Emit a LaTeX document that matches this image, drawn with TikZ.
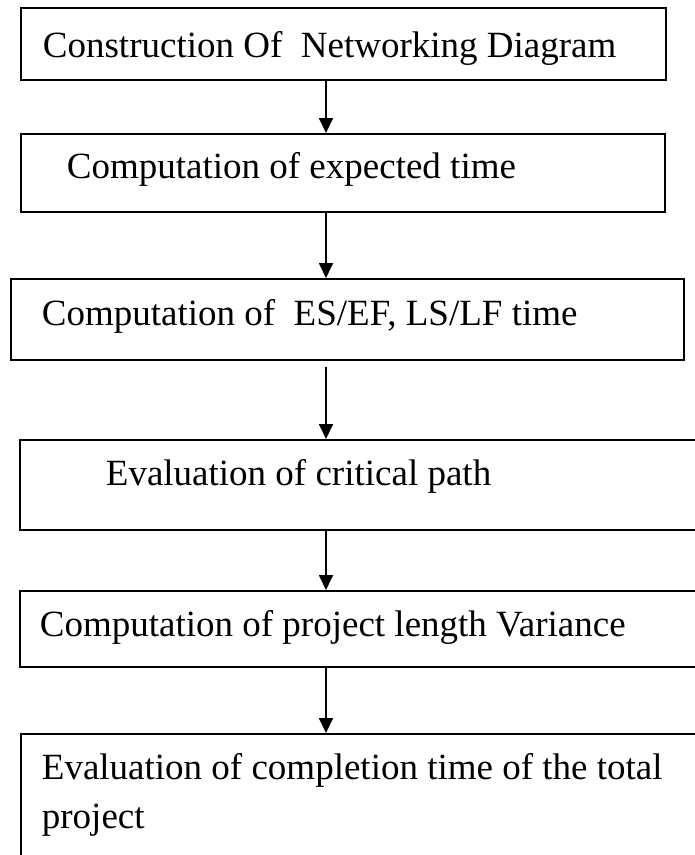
\documentclass[tikz,border=0pt]{standalone}
\usepackage{fontspec}
\setmainfont{Liberation Serif}
\usetikzlibrary{arrows.meta}

\begin{document}
\begin{tikzpicture}[x=1pt,y=-1pt,>={Triangle[length=15pt,width=14pt]},line width=1.8pt]
 \tikzstyle{stage}=[draw,rectangle,inner sep=0pt,anchor=north west]
 \tikzstyle{caption}=[anchor=base west,inner sep=0pt,font=\fontsize{37}{50}\selectfont]

   \useasboundingbox (0,0) rectangle (695,855);
   \clip (0,0) rectangle (695,855);

   % boxes
   \node[stage,minimum width=645,minimum height=72] (net) at (20,7) {};
   \node[stage,minimum width=644,minimum height=78] (expt) at (20,133) {};
   \node[stage,minimum width=673,minimum height=81] (esef) at (10,278) {};
   \node[stage,minimum width=700,minimum height=90] (crit) at (19,439) {};
   \node[stage,minimum width=700,minimum height=76] (var) at (19,590) {};
   \node[stage,minimum width=700,minimum height=160] (total) at (20,733) {};

   % texts
   \node[caption] (tnet) at (42,57) {Construction Of~ Networking Diagram};
   \node[caption] (texpt) at (66,178) {Computation of expected time};
   \node[caption] (tesef) at (41,325) {Computation of~ ES/EF, LS/LF time};
   \node[caption] (tcrit) at (105,485) {Evaluation of critical path};
   \node[caption] (tvar) at (39,636) {Computation of project length Variance};
   \node[caption] (ttot) at (41,779) {Evaluation of completion time of the total};
   \node[caption] (tproj) at (41,828) {project};

   \coordinate (ax) at (326,0);
   \path[->]
   (net.south -| ax) edge (expt.north -| ax)
   (expt.south -| ax) edge (esef.north -| ax)
   (esef.south -| ax) edge [shorten <=6pt] (crit.north -| ax)
   (crit.south -| ax) edge (var.north -| ax)
   (var.south -| ax) edge (total.north -| ax);

\end{tikzpicture}
\end{document}
